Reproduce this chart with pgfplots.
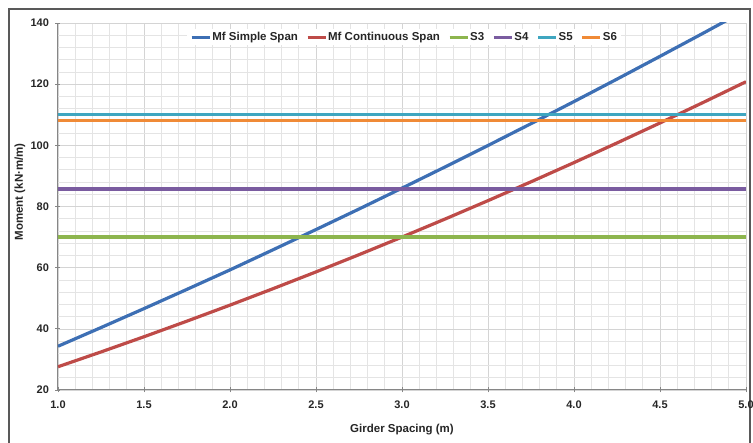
\documentclass[border=0pt]{standalone}
\usepackage{fontspec}
\setmainfont{Liberation Sans}
\usepackage{pgfplots}
\pgfplotsset{compat=1.18}
\definecolor{cBlue}{HTML}{3D6FB4}
\definecolor{cRed}{HTML}{BE4B48}
\definecolor{cGreen}{HTML}{8DB54E}
\definecolor{cPurple}{HTML}{7A5CA0}
\definecolor{cCyan}{HTML}{3FA6C0}
\definecolor{cOrange}{HTML}{F08A36}
\definecolor{axgray}{HTML}{868686}
\definecolor{gmaj}{HTML}{D4D4D4}
\definecolor{gmin}{HTML}{E4E4E4}
\definecolor{frame}{HTML}{595959}
\begin{document}
\begin{tikzpicture}
\useasboundingbox (-58pt,-53pt) rectangle (695pt,390pt);
\draw[frame, line width=1.5pt] (-49pt,-70pt) -- (-49pt,381pt) -- (692pt,381pt) -- (692pt,-70pt);
\begin{axis}[
  scale only axis, width=688pt, height=367pt,
  xmin=1, xmax=5, ymin=20, ymax=140,
  xtick={1,1.5,...,5}, ytick={20,40,...,140},
  minor x tick num=4, minor y tick num=4,
  grid=both,
  major grid style={draw=gmaj, line width=0.6pt},
  minor grid style={draw=gmin, line width=0.6pt},
  minor tick length=0pt, major tick length=5pt,
  tick align=center,
  tick style={draw=axgray, line width=0.8pt},
  axis x line*=bottom, axis y line*=left,
  axis line style={draw=axgray, line width=1pt},
  /pgf/number format/assume math mode=true,
  ticklabel style={font=\bfseries\fontsize{11}{13}\selectfont, text=black!85},
  xticklabel style={yshift=-5pt, /pgf/number format/.cd, fixed, fixed zerofill, precision=1},
  yticklabel style={xshift=-3pt},
  xlabel={Girder Spacing (m)},
  ylabel={Moment (kN·m/m)},
  label style={font=\bfseries\fontsize{11.5}{13}\selectfont, text=black!85},
  xlabel style={at={(axis description cs:0.5,-0.109)}, anchor=center},
  ylabel style={at={(axis description cs:-0.0552,0.54)}, anchor=center},
  legend style={at={(0.503,0.983)}, anchor=north, legend columns=-1, draw=none, fill=white,
    font=\bfseries\fontsize{11.5}{13}\selectfont, text=black!85,
    /tikz/every even column/.append style={column sep=7pt},
    nodes={inner sep=1pt}},
  legend image code/.code={\draw[#1, line width=3.2pt] (0pt,0pt) -- (18pt,0pt);},
]
\addplot[cBlue, line width=3.2pt, mark=none] coordinates {(1.0,34.30) (1.25,40.41) (1.5,46.61) (1.75,52.91) (2.0,59.27) (2.25,65.84) (2.5,72.46) (2.75,79.17) (3.0,86.00) (3.25,92.92) (3.5,99.95) (3.75,107.08) (4.0,114.31) (4.25,121.65) (4.5,129.10) (4.75,136.63) (5.0,144.28)};
\addlegendentry{Mf Simple Span}
\addplot[cRed, line width=3.2pt, mark=none] coordinates {(1.0,27.60) (1.25,32.44) (1.5,37.41) (1.75,42.52) (2.0,47.75) (2.25,53.12) (2.5,58.61) (2.75,64.24) (3.0,70.00) (3.25,75.89) (3.5,81.91) (3.75,88.07) (4.0,94.35) (4.25,100.77) (4.5,107.31) (4.75,113.99) (5.0,120.80)};
\addlegendentry{Mf Continuous Span}
\addplot[cGreen, line width=3.2pt, mark=none] coordinates {(1,70) (5,70)};
\addlegendentry{S3}
\addplot[cPurple, line width=3.2pt, mark=none] coordinates {(1,85.7) (5,85.7)};
\addlegendentry{S4}
\addplot[cCyan, line width=3.2pt, mark=none] coordinates {(1,110.2) (5,110.2)};
\addlegendentry{S5}
\addplot[cOrange, line width=3.2pt, mark=none] coordinates {(1,108) (5,108)};
\addlegendentry{S6}
\end{axis}
\end{tikzpicture}
\end{document}
